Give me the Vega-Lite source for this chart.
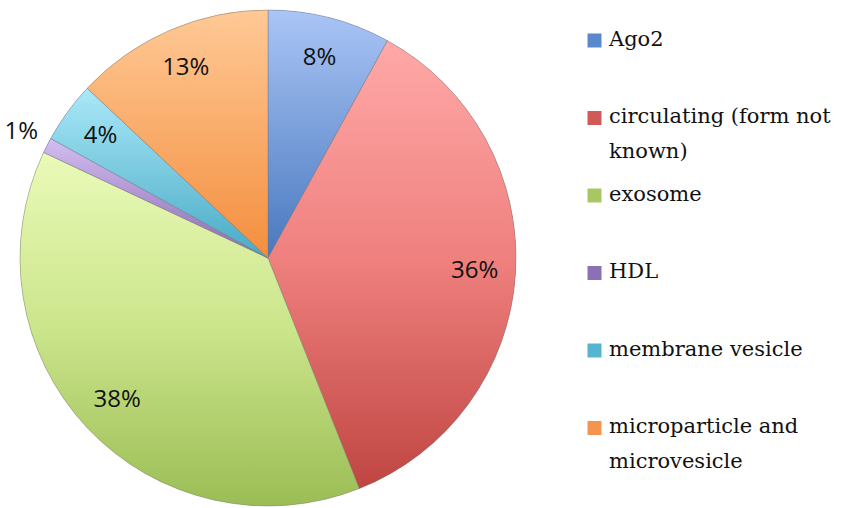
{
  "$schema": "https://vega.github.io/schema/vega-lite/v6.json",
  "width": 536,
  "height": 508,
  "autosize": "none",
  "padding": {"left": 0, "top": 4, "right": 307, "bottom": 0},
  "background": "white",
  "config": {"view": {"stroke": null}},
  "data": {
    "values": [
      {"category": "Ago2", "value": 0.08},
      {"category": "circulating (form not known)", "value": 0.36},
      {"category": "exosome", "value": 0.38},
      {"category": "HDL", "value": 0.01},
      {"category": "membrane vesicle", "value": 0.04},
      {"category": "microparticle and microvesicle", "value": 0.13}
    ]
  },
  "transform": [
    {"stack": "value", "groupby": [], "as": ["v0", "v1"]}
  ],
  "layer": [
    {
      "mark": {"type": "arc", "outerRadius": 248},
      "encoding": {
        "theta": {"field": "v0", "type": "quantitative", "scale": {"domain": [0, 1]}},
        "theta2": {"field": "v1"},
        "fill": {
          "field": "category",
          "type": "nominal",
          "scale": {
            "domain": ["Ago2", "circulating (form not known)", "exosome", "HDL", "membrane vesicle", "microparticle and microvesicle"],
            "range": ["#5A88CC", "#D05A58", "#A6C762", "#8C70B5", "#55B5D0", "#F5944C"]
          },
          "legend": {
            "orient": "none",
            "legendX": 584,
            "legendY": 26,
            "title": null,
            "padding": 0,
            "symbolType": "square",
            "symbolSize": 196,
            "symbolStrokeWidth": 0,
            "labelFont": "DejaVu Serif",
            "labelFontSize": 21,
            "labelColor": "#111111",
            "labelOffset": 4,
            "labelLimit": 400,
            "labelBaseline": "alphabetic",
            "rowPadding": 20.5,
            "gridAlign": "all",
            "labelExpr": "datum.label == 'circulating (form not known)' ? ['circulating (form not', 'known)'] : datum.label == 'microparticle and microvesicle' ? ['microparticle and', 'microvesicle'] : datum.label",
            "encode": {"labels": {"update": {"dy": {"value": 5}, "lineHeight": {"value": 35}}}}
          }
        }
      }
    },
    {
      "transform": [{"filter": "datum.category == 'Ago2'"}],
      "mark": {"type": "arc", "outerRadius": 248, "stroke": "#7a7a7a", "strokeOpacity": 0.45, "strokeWidth": 1,
        "fill": {"gradient": "linear", "x1": 0, "y1": 0, "x2": 0, "y2": 1, "stops": [{"offset": 0, "color": "#AAC5F6"}, {"offset": 1, "color": "#4878BE"}]}},
      "encoding": {"theta": {"field": "v0", "type": "quantitative", "scale": {"domain": [0, 1]}}, "theta2": {"field": "v1"}}
    },
    {
      "transform": [{"filter": "datum.category == 'circulating (form not known)'"}],
      "mark": {"type": "arc", "outerRadius": 248, "stroke": "#7a7a7a", "strokeOpacity": 0.45, "strokeWidth": 1,
        "fill": {"gradient": "linear", "x1": 0, "y1": 0, "x2": 0, "y2": 1, "stops": [{"offset": 0, "color": "#FFA9A8"}, {"offset": 0.5, "color": "#EE7F7D"}, {"offset": 1, "color": "#BF4541"}]}},
      "encoding": {"theta": {"field": "v0", "type": "quantitative", "scale": {"domain": [0, 1]}}, "theta2": {"field": "v1"}}
    },
    {
      "transform": [{"filter": "datum.category == 'exosome'"}],
      "mark": {"type": "arc", "outerRadius": 248, "stroke": "#7a7a7a", "strokeOpacity": 0.45, "strokeWidth": 1,
        "fill": {"gradient": "linear", "x1": 0, "y1": 0, "x2": 0, "y2": 1, "stops": [{"offset": 0, "color": "#EAFAB8"}, {"offset": 0.5, "color": "#CBE58B"}, {"offset": 1, "color": "#9BBD55"}]}},
      "encoding": {"theta": {"field": "v0", "type": "quantitative", "scale": {"domain": [0, 1]}}, "theta2": {"field": "v1"}}
    },
    {
      "transform": [{"filter": "datum.category == 'HDL'"}],
      "mark": {"type": "arc", "outerRadius": 248, "stroke": "#7a7a7a", "strokeOpacity": 0.45, "strokeWidth": 1,
        "fill": {"gradient": "linear", "x1": 0, "y1": 0, "x2": 0, "y2": 1, "stops": [{"offset": 0, "color": "#D2BEF0"}, {"offset": 1, "color": "#8A6AB2"}]}},
      "encoding": {"theta": {"field": "v0", "type": "quantitative", "scale": {"domain": [0, 1]}}, "theta2": {"field": "v1"}}
    },
    {
      "transform": [{"filter": "datum.category == 'membrane vesicle'"}],
      "mark": {"type": "arc", "outerRadius": 248, "stroke": "#7a7a7a", "strokeOpacity": 0.45, "strokeWidth": 1,
        "fill": {"gradient": "linear", "x1": 0, "y1": 0, "x2": 0, "y2": 1, "stops": [{"offset": 0, "color": "#AAE8F8"}, {"offset": 1, "color": "#48AAC6"}]}},
      "encoding": {"theta": {"field": "v0", "type": "quantitative", "scale": {"domain": [0, 1]}}, "theta2": {"field": "v1"}}
    },
    {
      "transform": [{"filter": "datum.category == 'microparticle and microvesicle'"}],
      "mark": {"type": "arc", "outerRadius": 248, "stroke": "#7a7a7a", "strokeOpacity": 0.45, "strokeWidth": 1,
        "fill": {"gradient": "linear", "x1": 0, "y1": 0, "x2": 0, "y2": 1, "stops": [{"offset": 0, "color": "#FFC996"}, {"offset": 1, "color": "#F48E3E"}]}},
      "encoding": {"theta": {"field": "v0", "type": "quantitative", "scale": {"domain": [0, 1]}}, "theta2": {"field": "v1"}}
    },
    {
      "mark": {"type": "text", "radius": 207, "font": "Open Sans", "fontSize": 24, "color": "#111111"},
      "encoding": {
        "theta": {"field": "value", "type": "quantitative", "stack": true, "scale": {"domain": [0, 1]}},
        "order": {"field": "v0", "type": "quantitative"},
        "detail": {"field": "category", "type": "nominal"},
        "text": {"condition": {"test": "datum.value >= 0.02", "field": "value", "type": "quantitative", "format": ".0%"}, "value": ""}
      }
    },
    {
      "mark": {"type": "text", "radius": 277, "font": "Open Sans", "fontSize": 24, "color": "#111111"},
      "encoding": {
        "theta": {"field": "value", "type": "quantitative", "stack": true, "scale": {"domain": [0, 1]}},
        "order": {"field": "v0", "type": "quantitative"},
        "detail": {"field": "category", "type": "nominal"},
        "text": {"condition": {"test": "datum.value < 0.02", "field": "value", "type": "quantitative", "format": ".0%"}, "value": ""}
      }
    }
  ]
}
